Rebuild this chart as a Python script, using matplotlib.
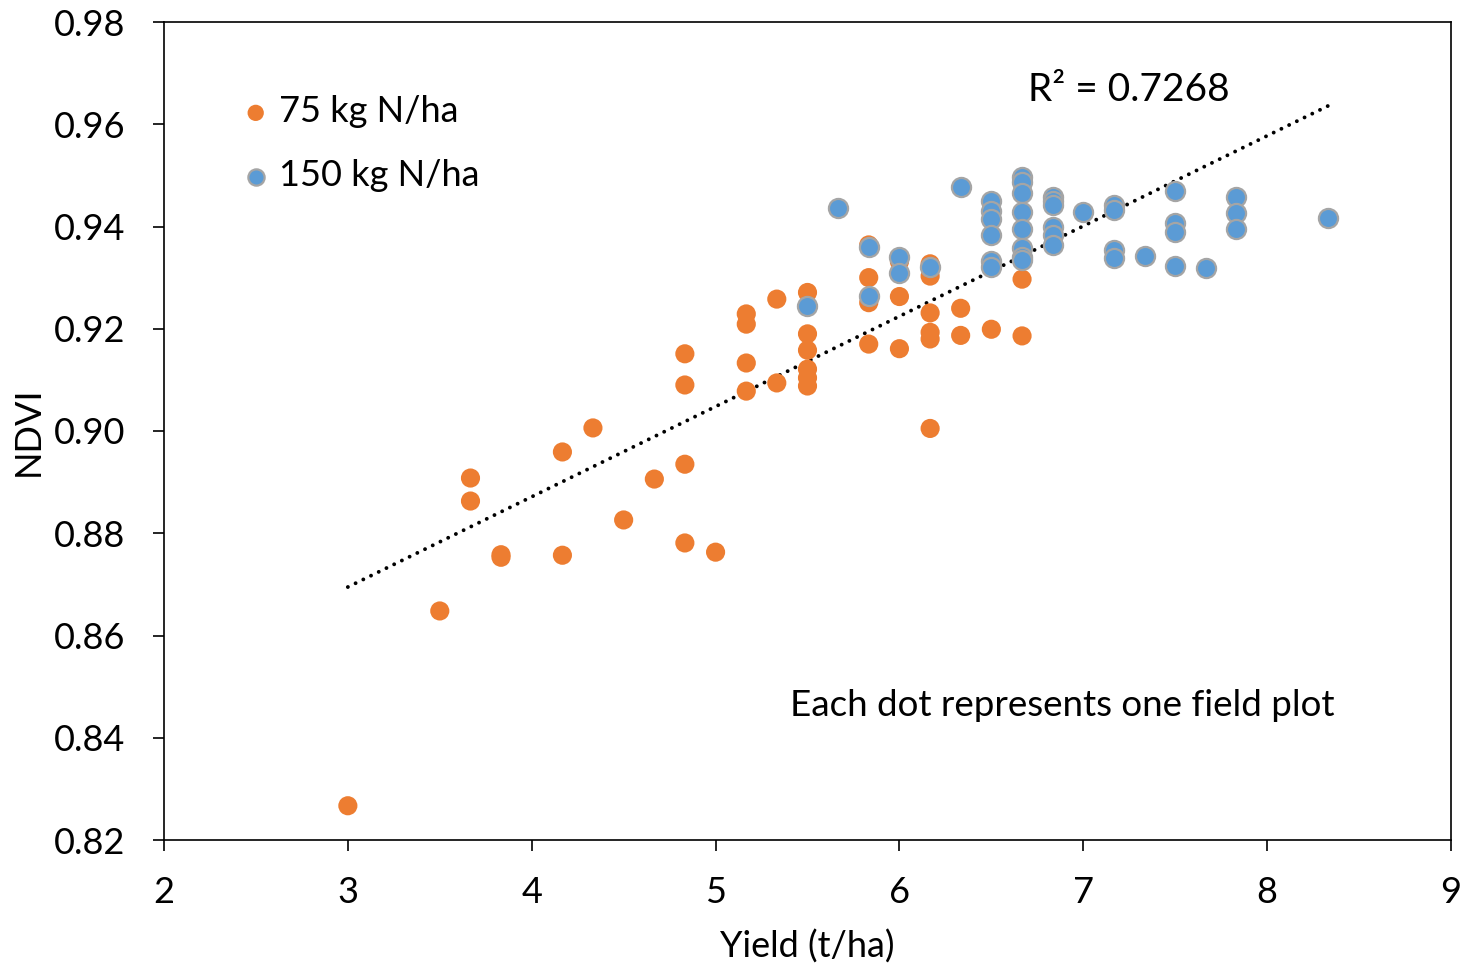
import numpy as np
import matplotlib
matplotlib.use('Agg')
import matplotlib.pyplot as plt

# 75 kg N/ha
yield_75 = [3.0, 3.5, 3.667, 3.667, 3.833, 3.833, 4.167, 4.167, 4.333, 4.5,
            4.667, 4.833, 4.833, 4.833, 4.833, 5.0,
            5.167, 5.167, 5.167, 5.167, 5.333, 5.333,
            5.5, 5.5, 5.5, 5.5, 5.5, 5.5,
            5.833, 5.833, 5.833, 5.833, 6.0, 6.0, 6.0,
            6.167, 6.167, 6.167, 6.167, 6.167, 6.167,
            6.333, 6.333, 6.5, 6.667, 6.667]
ndvi_75 = [0.8267, 0.8648, 0.8908, 0.8863, 0.8758, 0.8753, 0.8757, 0.8959, 0.9006, 0.8826,
           0.8906, 0.9151, 0.9090, 0.8935, 0.8781, 0.8763,
           0.9229, 0.9209, 0.9133, 0.9078, 0.9258, 0.9094,
           0.9271, 0.9190, 0.9158, 0.9121, 0.9104, 0.9088,
           0.9364, 0.9300, 0.9251, 0.9170, 0.9331, 0.9263, 0.9161,
           0.9327, 0.9303, 0.9231, 0.9193, 0.9180, 0.9005,
           0.9240, 0.9187, 0.9199, 0.9297, 0.9186]

# 150 kg N/ha
yield_150 = [5.5, 5.667, 5.833, 5.833, 6.0, 6.0, 6.167, 6.333,
             6.5, 6.5, 6.5, 6.5, 6.5, 6.5,
             6.667, 6.667, 6.667, 6.667, 6.667, 6.667, 6.667, 6.667,
             6.833, 6.833, 6.833, 6.833, 6.833, 6.833,
             7.0, 7.167, 7.167, 7.167, 7.167, 7.333,
             7.5, 7.5, 7.5, 7.5, 7.667, 7.833, 7.833, 7.833, 8.333]
ndvi_150 = [0.9245, 0.9437, 0.9359, 0.9264, 0.9341, 0.9310, 0.9320, 0.9477,
            0.9449, 0.9431, 0.9415, 0.9383, 0.9333, 0.9321,
            0.9497, 0.9488, 0.9466, 0.9429, 0.9396, 0.9357, 0.9340, 0.9334,
            0.9458, 0.9449, 0.9442, 0.9400, 0.9383, 0.9364,
            0.9429, 0.9442, 0.9432, 0.9355, 0.9338, 0.9342,
            0.9469, 0.9407, 0.9390, 0.9323, 0.9319, 0.9458, 0.9426, 0.9396, 0.9417]

orange = '#ED7D31'
blue = '#5B9BD5'
font = 'Lato'
fs = 26

plt.rcParams['font.family'] = [font, 'DejaVu Sans']

fig = plt.figure(figsize=(14.63, 9.67), dpi=100)
ax = fig.add_axes([164/1463, 1 - 840/967, (1451-164)/1463, (840-22)/967])

# linear trendline over all plots
x_all = np.array(yield_75 + yield_150)
y_all = np.array(ndvi_75 + ndvi_150)
k, d = np.polyfit(x_all, y_all, 1)
xs = np.array([x_all.min(), x_all.max()])
ax.plot(xs, k*xs + d, color='black', lw=2.8, linestyle=(0, (0.01, 2.2)),
        dash_capstyle='round', zorder=1)

ax.scatter(yield_75, ndvi_75, s=190, color=orange, edgecolors='none', zorder=2,
           label='75 kg N/ha')
ax.scatter(yield_150, ndvi_150, s=190, color=blue, edgecolors='#A5A5A5',
           linewidths=1.6, zorder=3, label='150 kg N/ha')

ax.set_xlim(2, 9)
ax.set_ylim(0.82, 0.98)
ax.set_xticks(range(2, 10))
ax.set_yticks(np.arange(0.82, 0.981, 0.02))
ax.set_yticklabels(['%.2f' % v for v in np.arange(0.82, 0.981, 0.02)])
ax.tick_params(labelsize=fs, length=8, width=1.2, direction='out')
ax.tick_params(axis='y', pad=20)
ax.tick_params(axis='x', pad=18)
for s in ax.spines.values():
    s.set_linewidth(1.2)
ax.set_xlabel('Yield (t/ha)', fontsize=fs)
ax.set_ylabel('NDVI', fontsize=fs)
ax.xaxis.set_label_coords(0.5, (840-947)/818)
ax.xaxis.label.set_va('center')
ax.yaxis.set_label_coords((28-164)/1287, 0.5)
ax.yaxis.label.set_va('center')

leg = ax.legend(loc='upper left', bbox_to_anchor=(0.046, 0.928), frameon=False,
                fontsize=fs, handletextpad=0.15, markerscale=0.85,
                labelspacing=0.85, handlelength=1.0, borderaxespad=0)

ax.text((1028-164)/1287, (840-90)/818, 'R² = 0.7268', fontsize=28,
        transform=ax.transAxes, va='center')
ax.text((1334-164)/1287, (840-706)/818, 'Each dot represents one field plot',
        fontsize=26.5, transform=ax.transAxes, ha='right', va='center')

fig.savefig('out.png', dpi=100)
